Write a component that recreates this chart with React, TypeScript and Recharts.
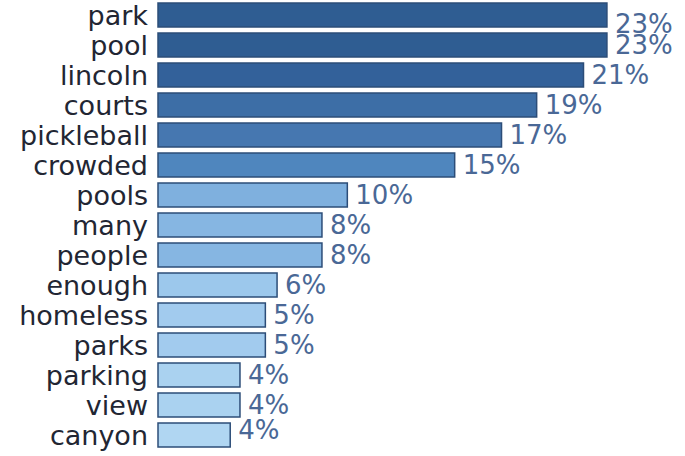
import React from "react";
import { BarChart, Bar, XAxis, YAxis, Cell, LabelList } from "recharts";

const categories = ["park", "pool", "lincoln", "courts", "pickleball", "crowded", "pools", "many", "people", "enough", "homeless", "parks", "parking", "view", "canyon"];
const values = [23.0, 23.0, 21.8, 19.4, 17.6, 15.2, 9.7, 8.4, 8.4, 6.1, 5.5, 5.5, 4.2, 4.2, 3.7];
const valueLabels = ["23%", "23%", "21%", "19%", "17%", "15%", "10%", "8%", "8%", "6%", "5%", "5%", "4%", "4%", "4%"];
const fills = ["#2f5d92", "#2f5d92", "#33619a", "#3d6ea6", "#4677b0", "#4f86be", "#7fb0de", "#86b6e2", "#86b6e2", "#9cc8ec", "#a2cbee", "#a2cbee", "#aad2f0", "#aad2f0", "#b0d6f2"];

const data = categories.map((c, i) => ({ name: c, value: values[i], label: valueLabels[i] }));

const ValueLabel = (props: any) => {
  const { x, y, width, height, index } = props;
  let cy = y + height / 2;
  if (cy < 24) cy = 24;
  if (cy > 430) cy = 430;
  return (
    <text x={x + width + 8} y={cy} dy="0.355em" fill="#4a6896" fontSize={26} fontFamily="DejaVu Sans" textAnchor="start">
      {valueLabels[index]}
    </text>
  );
};

export default function App() {
  return (
    <div style={{ position: "absolute", left: 0, top: 0, width: 685, height: 456, background: "#fff" }}>
      <BarChart width={685} height={456} data={data} layout="vertical" margin={{ top: 0, right: 0, bottom: 6, left: 0 }} barCategoryGap="10%">
        <XAxis type="number" domain={[0, 27]} hide />
        <YAxis
          type="category"
          dataKey="name"
          width={158}
          axisLine={false}
          tickLine={false}
          tickMargin={4}
          interval={0}
          tick={{ fontSize: 27, fill: "#222633", fontFamily: "DejaVu Sans" }}
        />
        <Bar dataKey="value" isAnimationActive={false} stroke="#2c4d78" strokeWidth={1.5}>
          {data.map((d, i) => (
            <Cell key={d.name} fill={fills[i]} />
          ))}
          <LabelList dataKey="label" content={ValueLabel} />
        </Bar>
      </BarChart>
    </div>
  );
}
